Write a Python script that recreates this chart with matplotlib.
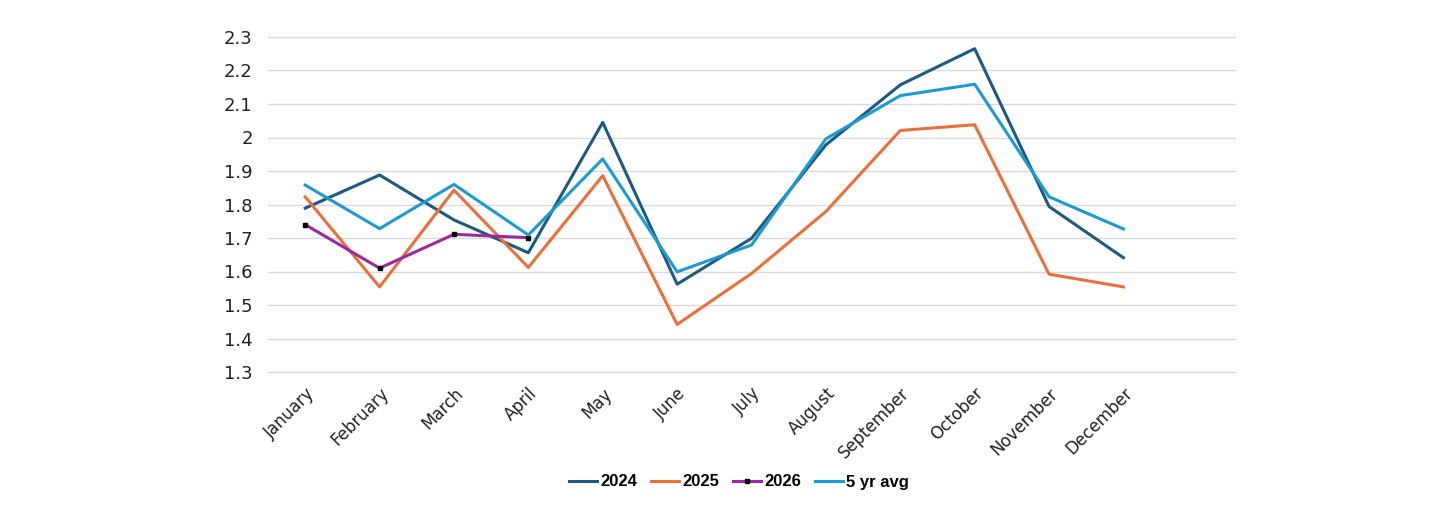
import matplotlib
matplotlib.use("Agg")
import matplotlib.pyplot as plt

months = ["January", "February", "March", "April", "May", "June", "July",
          "August", "September", "October", "November", "December"]
y2024 = [1.789, 1.888, 1.754, 1.656, 2.045, 1.562, 1.699, 1.978, 2.157, 2.265, 1.794, 1.641]
y2025 = [1.823, 1.554, 1.843, 1.612, 1.886, 1.442, 1.594, 1.779, 2.021, 2.038, 1.592, 1.554]
y2026 = [1.740, 1.610, 1.711, 1.701]
y5avg = [1.858, 1.728, 1.860, 1.709, 1.936, 1.599, 1.679, 1.996, 2.125, 2.159, 1.823, 1.727]
yticks = [1.3, 1.4, 1.5, 1.6, 1.7, 1.8, 1.9, 2.0, 2.1, 2.2, 2.3]
ytick_labels = ["1.3", "1.4", "1.5", "1.6", "1.7", "1.8", "1.9", "2", "2.1", "2.2", "2.3"]

fig = plt.figure(figsize=(14.4, 5.31), dpi=100)
ax = fig.add_axes([268/1440, 1-372/531, (1235-268)/1440, (372-37)/531])

x = list(range(len(months)))
ax.plot(x, y2024, color="#1D5A80", lw=2.2, label="2024")
ax.plot(x, y2025, color="#E8703A", lw=2.2, label="2025")
ax.plot(x[:len(y2026)], y2026, color="#9C2A9C", lw=2.2, marker="s", ms=3.5,
        mfc="black", mec="black", label="2026")
ax.plot(x, y5avg, color="#1E9AD3", lw=2.2, label="5 yr avg")

ax.set_xlim(-0.5, 12.5)
ax.set_ylim(1.3, 2.3)
ax.set_yticks(yticks)
ax.set_yticklabels(ytick_labels, fontsize=13, color="#222222")
ax.set_xticks(x)
ax.set_xticklabels(months, rotation=45, ha="right", rotation_mode="anchor",
                   fontsize=12, color="#222222")
ax.tick_params(axis="both", length=0)
ax.tick_params(axis="y", pad=11)
ax.tick_params(axis="x", pad=9)
ax.grid(axis="y", color="#DADADA", lw=1)
for gl in ax.get_ygridlines():
    gl.set_clip_on(False)
ax.set_axisbelow(True)
for s in ax.spines.values():
    s.set_visible(False)

leg = fig.legend(loc="center", bbox_to_anchor=(739/1440, 1-482/531), ncol=4,
                 frameon=False, handlelength=1.7, columnspacing=0.8, handletextpad=0.2,
                 prop={"family": "Liberation Sans", "weight": "bold", "size": 12})
fig.savefig("out.png", dpi=100, facecolor="white")
